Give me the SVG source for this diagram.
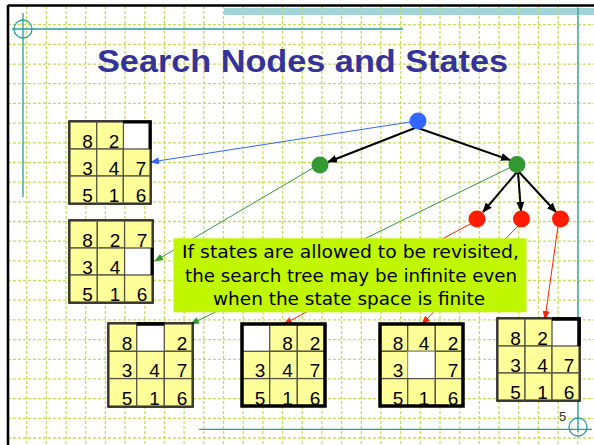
<svg xmlns="http://www.w3.org/2000/svg" width="594" height="445" viewBox="0 0 594 445">
<defs>
<style>
.grid{stroke:#c6dd55;stroke-width:1.3;stroke-dasharray:3 2;fill:none}
.teal{stroke:#2a9d9d;stroke-width:1.3;fill:none}
.tile{fill:#ffff99;stroke:#555544;stroke-width:1.3}
.blank{fill:#ffffff;stroke:none}
.frame{fill:none;stroke:#000;stroke-width:3.5}
.dg{font-family:"Liberation Sans",Arial,sans-serif;font-size:19px;fill:#000;text-anchor:middle}
.tree{stroke:#000;stroke-width:2;fill:none;marker-end:url(#ab)}
.ptr{stroke-width:1;fill:none}
.callt{font-family:"DejaVu Sans","Liberation Sans",sans-serif;font-size:18px;fill:#000}
</style>
<marker id="ab" markerUnits="userSpaceOnUse" markerWidth="10" markerHeight="8" refX="9" refY="4" orient="auto"><path d="M0,0 L10,4 L0,8 z" fill="#000"/></marker>
<marker id="mb" markerUnits="userSpaceOnUse" markerWidth="9" markerHeight="7" refX="8" refY="3.5" orient="auto"><path d="M0,0 L9,3.5 L0,7 z" fill="#3366ff"/></marker>
<marker id="mg" markerUnits="userSpaceOnUse" markerWidth="9" markerHeight="7" refX="8" refY="3.5" orient="auto"><path d="M0,0 L9,3.5 L0,7 z" fill="#339933"/></marker>
<marker id="mr" markerUnits="userSpaceOnUse" markerWidth="9" markerHeight="7" refX="8" refY="3.5" orient="auto"><path d="M0,0 L9,3.5 L0,7 z" fill="#ff2200"/></marker>
</defs>
<rect x="0" y="0" width="594" height="445" fill="#fff"/>
<g id="background">
<rect x="224" y="8" width="370" height="7" fill="#9fd3d8"/>
<path class="grid" d="M26.7 6V445M46.4 6V445M66.1 6V445M85.7 6V445M105.4 6V445M125.1 6V445M144.8 6V445M164.5 6V445M184.1 6V445M203.8 6V445M223.5 6V445M243.2 6V445M262.9 6V445M282.5 6V445M302.2 6V445M321.9 6V445M341.6 6V445M361.3 6V445M380.9 6V445M400.6 6V445M420.3 6V445M440 6V445M459.7 6V445M479.3 6V445M499 6V445M518.7 6V445M538.4 6V445M558.1 6V445M577.7 6V445"/>
<path class="grid" d="M8 24.7H594M8 44.4H594M8 64.1H594M8 83.7H594M8 103.4H594M8 123.1H594M8 142.8H594M8 162.5H594M8 182.1H594M8 201.8H594M8 221.5H594M8 241.2H594M8 260.9H594M8 280.5H594M8 300.2H594M8 319.9H594M8 339.6H594M8 359.3H594M8 378.9H594M8 398.6H594M8 418.3H594M8 438H594"/>
<path d="M8 5.5H594M8 5V445" stroke="#000" stroke-width="2.6" fill="none"/>
<path class="teal" d="M12 29H403M23 13V197M578 8V432M199 429.3H592"/>
<circle class="teal" cx="23" cy="29" r="9"/>
<circle class="teal" cx="578" cy="427" r="9"/>
</g>
<text x="97" y="72" textLength="411" lengthAdjust="spacingAndGlyphs" font-family="Liberation Sans, Arial, sans-serif" font-weight="bold" font-size="31" fill="#333399">Search Nodes and States</text>
<g id="connectors">
<path class="ptr" stroke="#3366ff" marker-end="url(#mb)" d="M410 122L151 162"/>
<path class="ptr" stroke="#339933" marker-end="url(#mg)" d="M313 168L155 261"/>
<path class="ptr" stroke="#339933" marker-end="url(#mg)" d="M511 167L191 324"/>
<path class="ptr" stroke="#ff2200" marker-end="url(#mr)" d="M472 223L284 324"/>
<path class="ptr" stroke="#ff2200" marker-end="url(#mr)" d="M518 226L422 324"/>
<path class="ptr" stroke="#ff2200" marker-end="url(#mr)" d="M558 226L545 319"/>
<path class="tree" d="M415 128L328 162"/>
<path class="tree" d="M418 128L510 160"/>
<path class="tree" d="M517 172L483 212"/>
<path class="tree" d="M518 172L521 211"/>
<path class="tree" d="M519 172L556 212"/>
</g>
<g id="n-root"><circle cx="418" cy="121" r="8.5" fill="#3366ff"/></g>
<g id="n-g1"><circle cx="320" cy="165" r="8.5" fill="#339933"/></g>
<g id="n-g2"><circle cx="517" cy="164.5" r="8.5" fill="#339933"/></g>
<g id="n-r1"><circle cx="477" cy="219" r="8.5" fill="#ff1a00"/></g>
<g id="n-r2"><circle cx="521.5" cy="219" r="8.5" fill="#ff1a00"/></g>
<g id="n-r3"><circle cx="560.5" cy="219" r="8.5" fill="#ff1a00"/></g>

<g id="board-a">
<rect class="frame" x="70" y="122" width="80" height="81"/>
<rect class="blank" x="123.3" y="122" width="26.7" height="27"/>
<rect class="tile" x="70" y="122" width="26.7" height="27"/><rect class="tile" x="96.7" y="122" width="26.7" height="27"/>
<rect class="tile" x="70" y="149" width="26.7" height="27"/><rect class="tile" x="96.7" y="149" width="26.7" height="27"/><rect class="tile" x="123.3" y="149" width="26.7" height="27"/>
<rect class="tile" x="70" y="176" width="26.7" height="27"/><rect class="tile" x="96.7" y="176" width="26.7" height="27"/><rect class="tile" x="123.3" y="176" width="26.7" height="27"/>
<path d="M123.3 122H150V149" stroke="#000" stroke-width="3" fill="none"/>
<text class="dg" x="87.5" y="147.5">8</text><text class="dg" x="114" y="147.5">2</text>
<text class="dg" x="87.5" y="174.5">3</text><text class="dg" x="114" y="174.5">4</text><text class="dg" x="141" y="174.5">7</text>
<text class="dg" x="87.5" y="201.5">5</text><text class="dg" x="114" y="201.5">1</text><text class="dg" x="141" y="201.5">6</text>
</g>

<g id="board-b">
<rect class="frame" x="70" y="221" width="82" height="81"/>
<rect class="blank" x="124.6" y="248" width="27.4" height="27"/>
<rect class="tile" x="70" y="221" width="27.3" height="27"/><rect class="tile" x="97.3" y="221" width="27.3" height="27"/><rect class="tile" x="124.6" y="221" width="27.4" height="27"/>
<rect class="tile" x="70" y="248" width="27.3" height="27"/><rect class="tile" x="97.3" y="248" width="27.3" height="27"/>
<rect class="tile" x="70" y="275" width="27.3" height="27"/><rect class="tile" x="97.3" y="275" width="27.3" height="27"/><rect class="tile" x="124.6" y="275" width="27.4" height="27"/>
<path d="M152 248V275" stroke="#000" stroke-width="3" fill="none"/>
<text class="dg" x="87.5" y="246.5">8</text><text class="dg" x="115" y="246.5">2</text><text class="dg" x="142" y="246.5">7</text>
<text class="dg" x="87.5" y="273.5">3</text><text class="dg" x="115" y="273.5">4</text>
<text class="dg" x="87.5" y="300.5">5</text><text class="dg" x="115" y="300.5">1</text><text class="dg" x="142" y="300.5">6</text>
</g>

<g id="board-c">
<rect class="frame" x="109" y="324" width="83" height="82"/>
<rect class="blank" x="136.7" y="324" width="27.6" height="27.3"/>
<rect class="tile" x="109" y="324" width="27.7" height="27.3"/><rect class="tile" x="164.3" y="324" width="27.7" height="27.3"/>
<rect class="tile" x="109" y="351.3" width="27.7" height="27.3"/><rect class="tile" x="136.7" y="351.3" width="27.6" height="27.3"/><rect class="tile" x="164.3" y="351.3" width="27.7" height="27.3"/>
<rect class="tile" x="109" y="378.6" width="27.7" height="27.4"/><rect class="tile" x="136.7" y="378.6" width="27.6" height="27.4"/><rect class="tile" x="164.3" y="378.6" width="27.7" height="27.4"/>
<path d="M136.7 324H164.3" stroke="#000" stroke-width="3.5" fill="none"/>
<text class="dg" x="127" y="349.8">8</text><text class="dg" x="182" y="349.8">2</text>
<text class="dg" x="127" y="377">3</text><text class="dg" x="154.5" y="377">4</text><text class="dg" x="182" y="377">7</text>
<text class="dg" x="127" y="404.5">5</text><text class="dg" x="154.5" y="404.5">1</text><text class="dg" x="182" y="404.5">6</text>
</g>

<g id="board-d">
<rect class="blank" x="242" y="324" width="27.7" height="27.3"/>
<rect class="tile" x="269.7" y="324" width="27.6" height="27.3"/><rect class="tile" x="297.3" y="324" width="27.7" height="27.3"/>
<rect class="tile" x="242" y="351.3" width="27.7" height="27.3"/><rect class="tile" x="269.7" y="351.3" width="27.6" height="27.3"/><rect class="tile" x="297.3" y="351.3" width="27.7" height="27.3"/>
<rect class="tile" x="242" y="378.6" width="27.7" height="27.4"/><rect class="tile" x="269.7" y="378.6" width="27.6" height="27.4"/><rect class="tile" x="297.3" y="378.6" width="27.7" height="27.4"/>
<rect class="frame" x="242" y="324" width="83" height="82"/>
<text class="dg" x="287.5" y="349.8">8</text><text class="dg" x="315" y="349.8">2</text>
<text class="dg" x="260" y="377">3</text><text class="dg" x="287.5" y="377">4</text><text class="dg" x="315" y="377">7</text>
<text class="dg" x="260" y="404.5">5</text><text class="dg" x="287.5" y="404.5">1</text><text class="dg" x="315" y="404.5">6</text>
</g>

<g id="board-e">
<rect class="tile" x="380" y="324" width="27.7" height="27.3"/><rect class="tile" x="407.7" y="324" width="27.6" height="27.3"/><rect class="tile" x="435.3" y="324" width="27.7" height="27.3"/>
<rect class="tile" x="380" y="351.3" width="27.7" height="27.3"/><rect x="407.7" y="351.3" width="27.6" height="27.3" fill="#fff" stroke="#999" stroke-width="1"/><rect class="tile" x="435.3" y="351.3" width="27.7" height="27.3"/>
<rect class="tile" x="380" y="378.6" width="27.7" height="27.4"/><rect class="tile" x="407.7" y="378.6" width="27.6" height="27.4"/><rect class="tile" x="435.3" y="378.6" width="27.7" height="27.4"/>
<rect class="frame" x="380" y="324" width="83" height="82"/>
<text class="dg" x="398" y="349.8">8</text><text class="dg" x="424" y="349.8">4</text><text class="dg" x="453" y="349.8">2</text>
<text class="dg" x="398" y="377">3</text><text class="dg" x="453" y="377">7</text>
<text class="dg" x="398" y="404.5">5</text><text class="dg" x="424" y="404.5">1</text><text class="dg" x="453" y="404.5">6</text>
</g>

<g id="board-f">
<rect class="frame" x="498" y="319" width="81" height="81"/>
<rect class="blank" x="552" y="319" width="27" height="27"/>
<rect class="tile" x="498" y="319" width="27" height="27"/><rect class="tile" x="525" y="319" width="27" height="27"/>
<rect class="tile" x="498" y="346" width="27" height="27"/><rect class="tile" x="525" y="346" width="27" height="27"/><rect class="tile" x="552" y="346" width="27" height="27"/>
<rect class="tile" x="498" y="373" width="27" height="27"/><rect class="tile" x="525" y="373" width="27" height="27"/><rect class="tile" x="552" y="373" width="27" height="27"/>
<path d="M552 319H579V346" stroke="#000" stroke-width="3.5" fill="none"/>
<text class="dg" x="515.5" y="344.5">8</text><text class="dg" x="542.5" y="344.5">2</text>
<text class="dg" x="515.5" y="371.5">3</text><text class="dg" x="542.5" y="371.5">4</text><text class="dg" x="569" y="371.5">7</text>
<text class="dg" x="515.5" y="398.5">5</text><text class="dg" x="542.5" y="398.5">1</text><text class="dg" x="569" y="398.5">6</text>
</g>

<g id="callout">
<rect x="173.5" y="238.3" width="353" height="74" fill="#c0f700"/>
<text class="callt" x="182" y="258.3" textLength="337" lengthAdjust="spacingAndGlyphs">If states are allowed to be revisited,</text>
<text class="callt" x="185" y="281.7" textLength="332" lengthAdjust="spacingAndGlyphs">the search tree may be infinite even</text>
<text class="callt" x="213" y="305" textLength="272" lengthAdjust="spacingAndGlyphs">when the state space is finite</text>
</g>
<text x="559" y="421" font-family="Liberation Sans, Arial, sans-serif" font-size="13" fill="#333">5</text>
</svg>
